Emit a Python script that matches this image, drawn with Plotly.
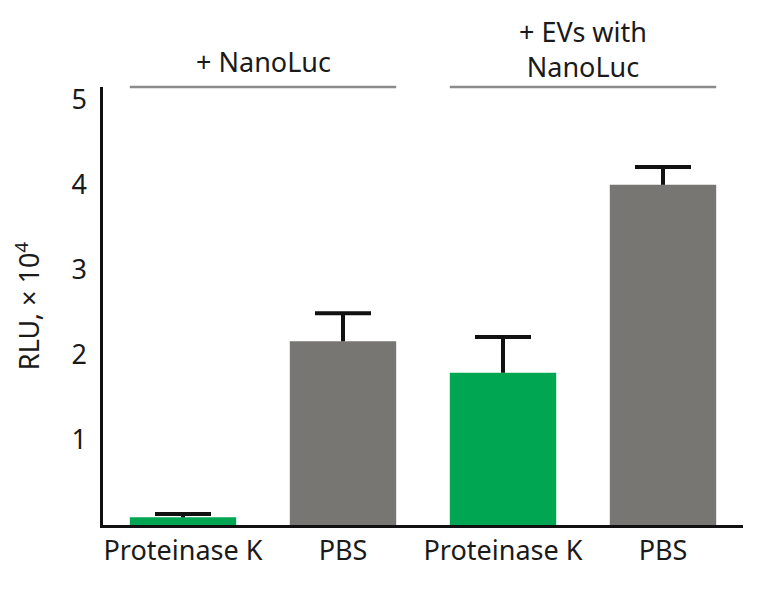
import plotly.graph_objects as go

categories = ["Proteinase K", "PBS", "Proteinase K", "PBS"]
values = [0.09, 2.16, 1.79, 4.0]
err_plus = [0.04, 0.33, 0.42, 0.21]
colors = ["#00A651", "#777672", "#00A651", "#777672"]
ytick_vals = [1, 2, 3, 4, 5]
group_labels = ["+ NanoLuc", "+ EVs with<br>NanoLuc"]

FONT = "Noto Sans"
FS = 27
bar_width = 0.665
cap_half = 0.175
xpos = list(range(len(categories)))

fig = go.Figure()
fig.add_trace(go.Bar(
    x=xpos, y=values, width=bar_width,
    marker=dict(color=colors, line=dict(width=0)),
    hoverinfo="skip",
))

# upper-only error bars: stem from bar top to value+err, plus a cap
ex, ey = [], []
for x, v, e in zip(xpos, values, err_plus):
    ex += [x, x, None, x - cap_half, x + cap_half, None]
    ey += [v, v + e, None, v + e, v + e, None]
fig.add_trace(go.Scatter(x=ex, y=ey, mode="lines",
                         line=dict(color="#111111", width=4),
                         hoverinfo="skip"))

# group annotations: lines spanning the bars of each group
groups = [(0, 1), (2, 3)]
shifts = [5, 0]
for (a, b), lab, sh in zip(groups, group_labels, shifts):
    fig.add_shape(type="line", xref="x", yref="paper",
                  x0=a - bar_width / 2, x1=b + bar_width / 2, y0=1.0, y1=1.0,
                  line=dict(color="#8c8c8c", width=2.5))
    fig.add_annotation(x=(a + b) / 2, y=1.0, xref="x", yref="paper",
                       text=lab, showarrow=False, yanchor="bottom", yshift=sh,
                       font=dict(family=FONT, size=FS, color="#1a1a1a"))

fig.update_layout(
    width=765, height=593,
    margin=dict(l=95, r=30, t=79, b=76, autoexpand=False),
    paper_bgcolor="white", plot_bgcolor="white",
    showlegend=False,
    font=dict(family=FONT, size=FS, color="#1a1a1a"),
    xaxis=dict(range=[-0.5, 3.5], tickvals=xpos, ticktext=categories,
               showline=True, linecolor="#111111", linewidth=2.5,
               showgrid=False, zeroline=False, ticks="", ticklabelstandoff=0,
               automargin=False,
               tickfont=dict(family=FONT, size=FS, color="#1a1a1a")),
    yaxis=dict(range=[0, 5.15], tickvals=ytick_vals,
               showline=True, linecolor="#111111", linewidth=2.5,
               showgrid=False, zeroline=False, ticks="", ticklabelstandoff=8,
               automargin=False,
               tickfont=dict(family=FONT, size=FS, color="#1a1a1a"),
               title=dict(text="RLU, × 10<sup>4</sup>", standoff=24,
                          font=dict(family=FONT, size=FS, color="#1a1a1a"))),
)

fig.write_html("out.html")
